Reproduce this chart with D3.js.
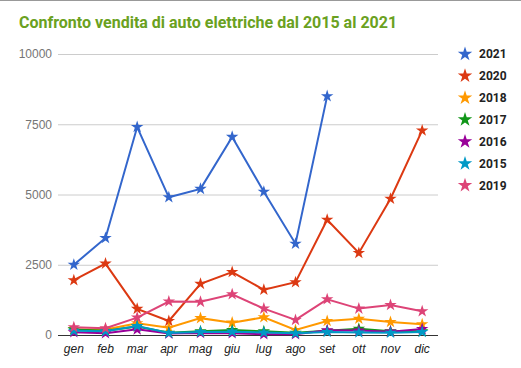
<!DOCTYPE html>
<html><head><meta charset="utf-8">
<script src="https://cdn.jsdelivr.net/npm/d3@7"></script>
<style>body{margin:0;background:#fff}svg{display:block;font-family:Roboto,Arial,sans-serif}</style>
</head><body><svg id="c" width="521" height="368"></svg>
<script>
const months = ["gen","feb","mar","apr","mag","giu","lug","ago","set","ott","nov","dic"];
const yTicks = [0,2500,5000,7500,10000];
const seriesNames = ["2021","2020","2018","2017","2016","2015","2019"];
const colors = ["#3366cc","#dc3912","#ff9900","#109618","#990099","#0099c6","#dd4477"];
const v2021 = [2500,3450,7400,4900,5200,7050,5100,3250,8500,null,null,null];
const v2020 = [1950,2540,930,500,1820,2240,1610,1880,4100,2920,4850,7280];
const v2018 = [200,200,420,260,600,440,630,180,500,580,460,380];
const v2017 = [200,150,300,80,130,180,130,80,150,220,130,130];
const v2016 = [100,60,200,50,70,60,30,30,170,160,120,210];
const v2015 = [150,130,320,70,110,120,90,60,110,90,80,110];
const v2019 = [275,240,620,1190,1180,1450,940,536,1270,940,1070,845];
const values = [v2021,v2020,v2018,v2017,v2016,v2015,v2019];

const svg = d3.select("#c");
svg.append("line").attr("x1",0).attr("x2",521).attr("y1",0.5).attr("y2",0.5).attr("stroke","#999");

const x = d3.scaleBand().domain(months).range([58,438]);
const y = d3.scaleLinear().domain([0,10000]).range([335,54]);

svg.append("text").attr("x",19).attr("y",28).attr("fill","#6aa121")
  .attr("font-size",16).attr("font-weight","bold").text("Confronto vendita di auto elettriche dal 2015 al 2021");

const yAxis = svg.append("g").attr("transform","translate(58,0)")
  .call(d3.axisLeft(y).tickValues(yTicks).tickSize(-380).tickFormat(d3.format("d")));
yAxis.select(".domain").remove();
yAxis.selectAll(".tick line").attr("stroke","#ccc");
yAxis.selectAll(".tick text").attr("fill","#757575").attr("font-size",12).attr("x",-6);
yAxis.selectAll(".tick").filter(d=>d===0).select("line").attr("stroke","#333");

const xAxis = svg.append("g").attr("transform","translate(0,335)")
  .call(d3.axisBottom(x).tickSize(0));
xAxis.select(".domain").remove();
xAxis.selectAll(".tick text").attr("fill","#222").attr("font-size",12).attr("font-style","italic").attr("dy","1.25em");

const line = d3.line().defined(d=>d!=null).x((d,i)=>x(months[i])+x.bandwidth()/2).y(d=>y(d));
const star = d3.symbol().type(d3.symbolStar).size(48);

seriesNames.forEach((name,k)=>{
  const g = svg.append("g");
  g.append("path").attr("d",line(values[k])).attr("fill","none").attr("stroke",colors[k]).attr("stroke-width",2);
  values[k].forEach((v,i)=>{
    if(v==null) return;
    g.append("path").attr("d",star()).attr("fill",colors[k])
      .attr("transform",`translate(${x(months[i])+x.bandwidth()/2},${y(v)})`);
  });
});

const leg = svg.append("g");
seriesNames.forEach((name,k)=>{
  const yy = 54 + k*21.9;
  leg.append("path").attr("d",d3.symbol().type(d3.symbolStar).size(65)()).attr("fill",colors[k])
    .attr("transform",`translate(465,${yy})`);
  leg.append("text").attr("x",479).attr("y",yy).attr("dy","0.35em").attr("font-size",12)
    .attr("font-weight","bold").attr("fill","#222").text(name);
});
</script></body></html>
